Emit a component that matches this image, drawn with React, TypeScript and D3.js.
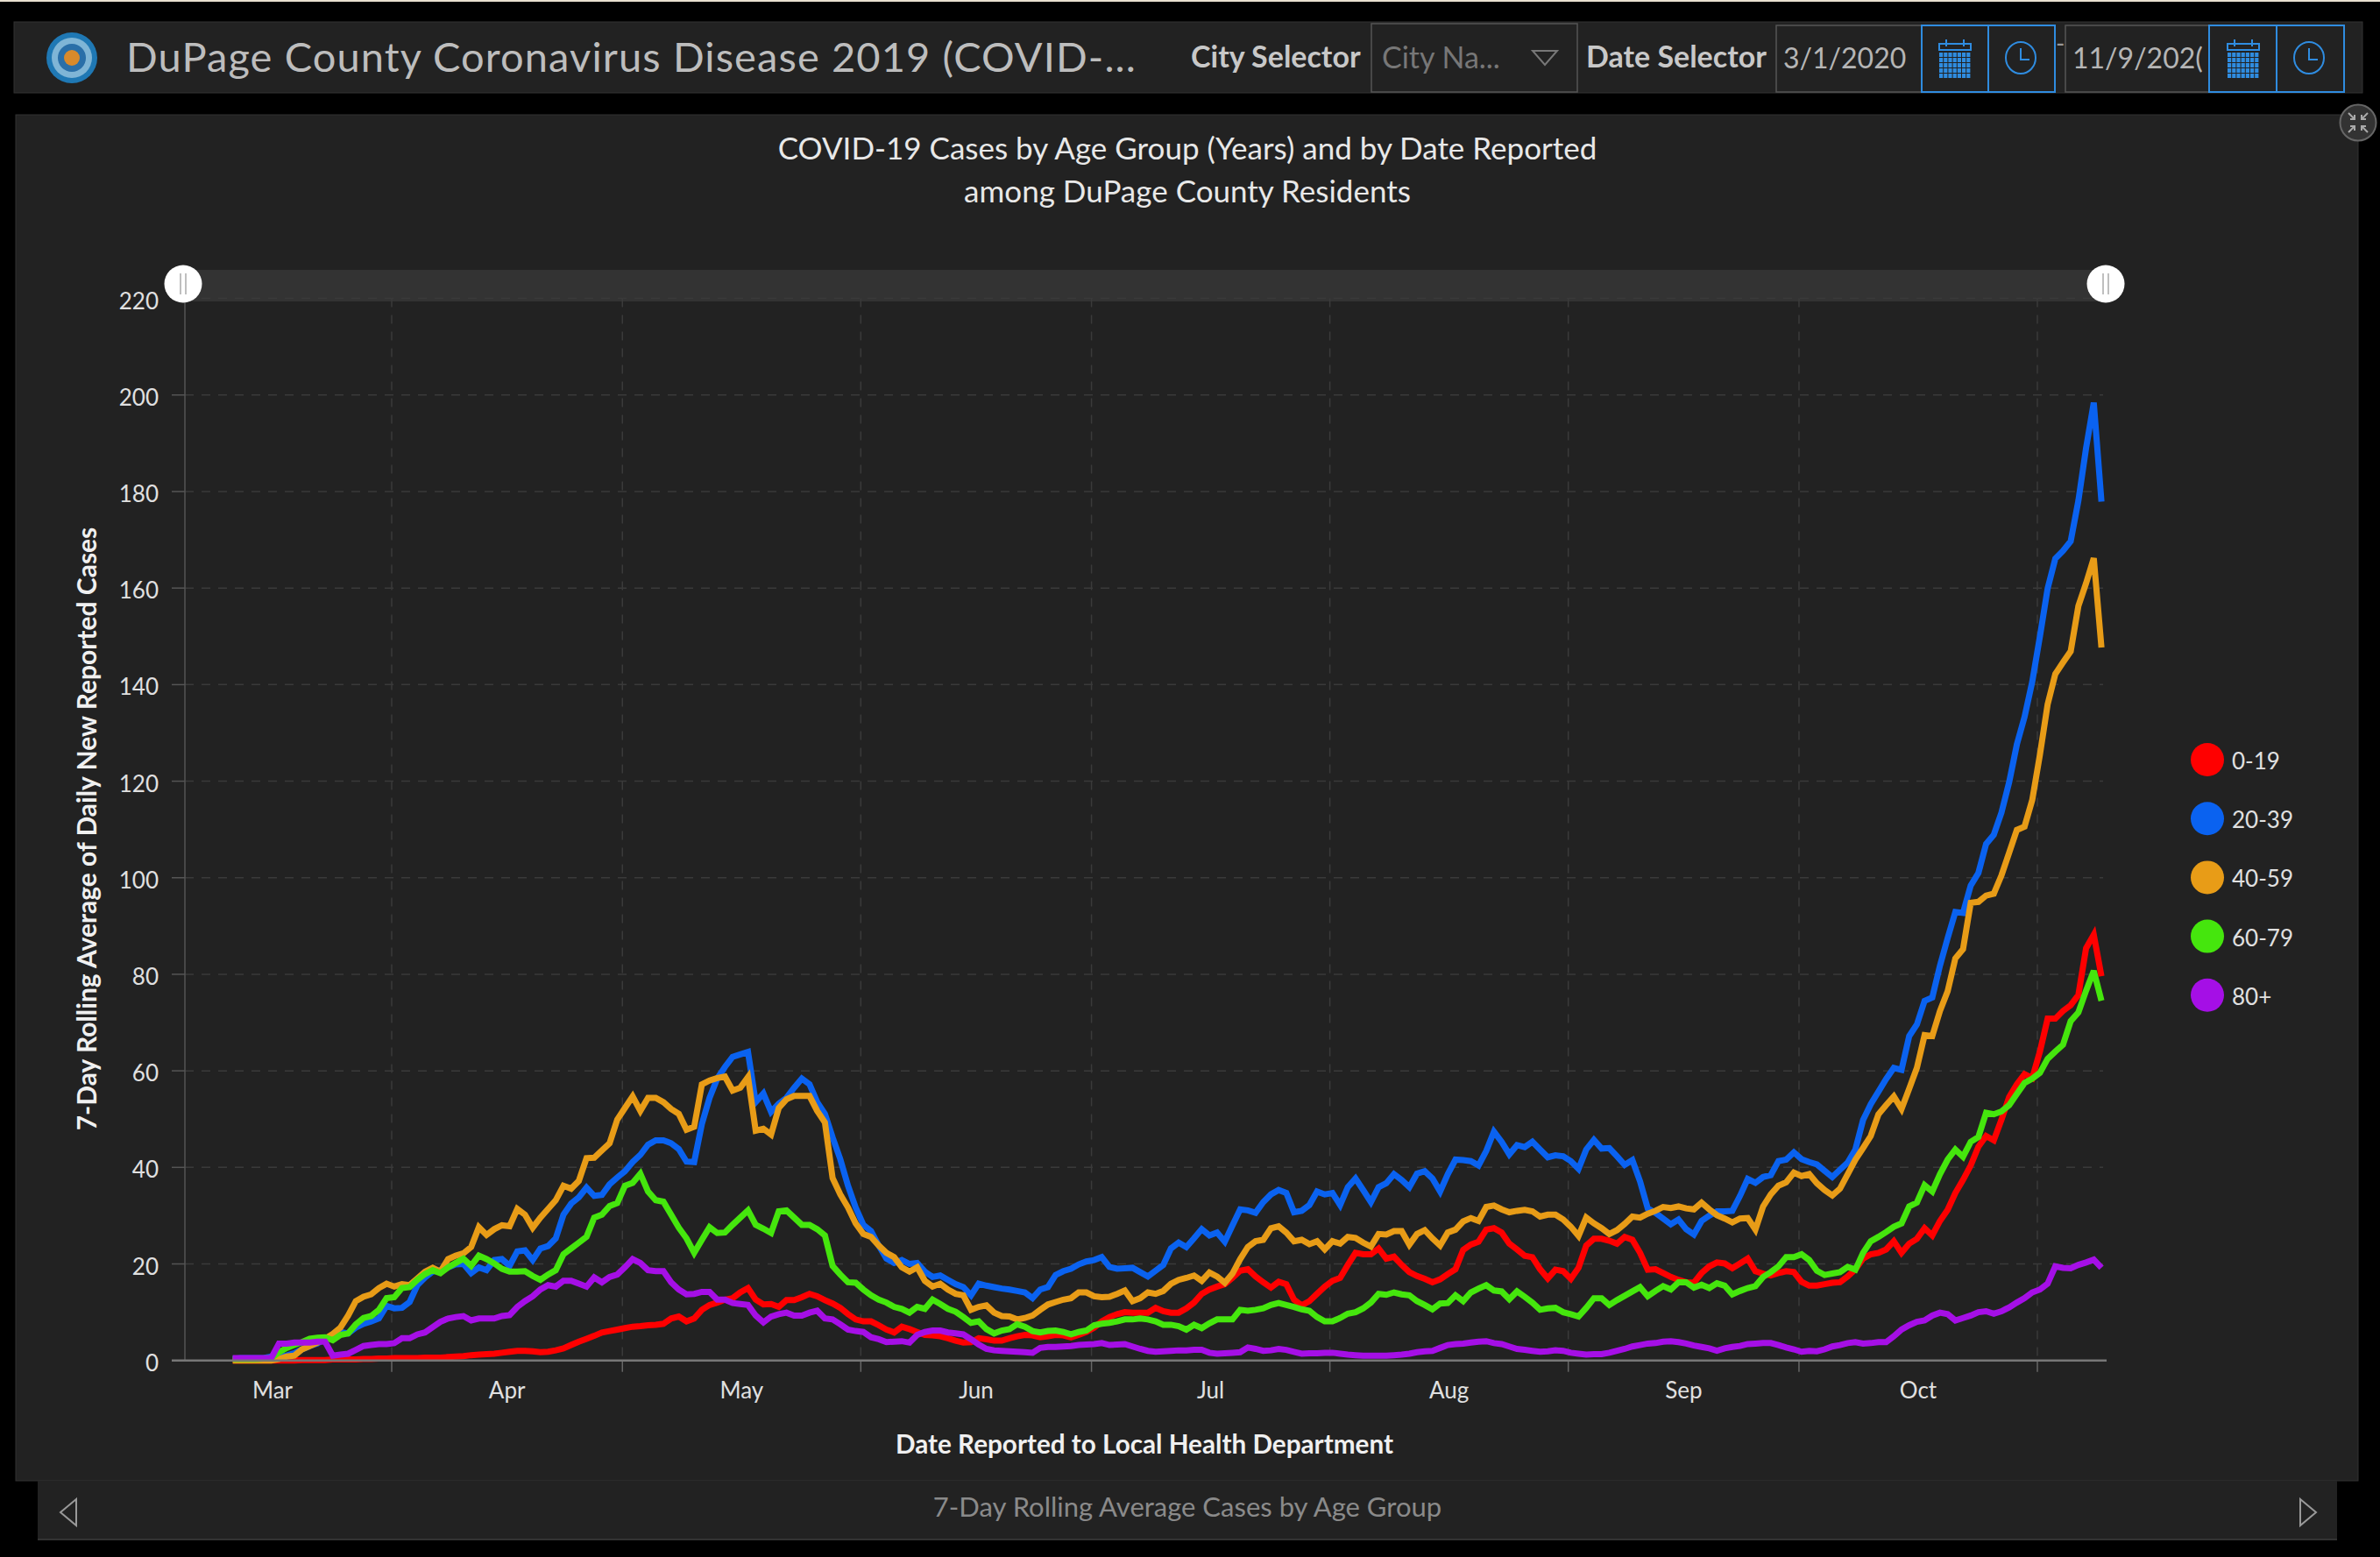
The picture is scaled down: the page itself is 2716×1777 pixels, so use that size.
import React from "react";
import * as d3 from "d3";

// Daily values, Mar 11 to Nov 9 2020; one row per month
const age0to19 = [
  0,0,0,0,0,0,0,0,0,.1,.1,.1,.1,.2,.2,.2,.2,.3,.3,.4,.4,
  .5,.5,.5,.5,.6,.6,.6,.7,.8,.9,1.1,1.2,1.3,1.4,1.6,1.8,2,2,1.9,1.7,1.8,2.1,2.5,3.2,3.9,4.5,5.1,5.8,6.1,6.4,
  6.7,7,7.1,7.3,7.4,7.6,8.7,9.1,8.1,8.7,10.5,11.5,12,12.6,12.9,14.1,15,12.6,11.6,11.7,11.1,12.5,12.5,13.1,13.8,13.3,12.5,11.8,10.9,9.6,8.5,
  8.1,8.1,7.3,6.4,5.8,7,6.5,5.9,5.3,5.2,5,4.6,4.1,3.7,3.8,4.6,4.4,4.1,4.1,4.6,5,5.3,5.2,4.8,5,5.3,5.2,4.8,5.3,5.9,
  6.8,8.1,9,9.6,10,9.9,9.9,9.9,10.9,10.2,9.9,9.9,10.8,12,13.8,14.7,15.3,15.8,17.1,18.6,18.9,17.4,16.2,15.1,16.3,15.8,12.6,11.4,12.3,13.8,15.3,
  16.5,17.1,19.8,22.3,22,22,23.2,21.1,21.5,19.8,18.3,17.5,16.9,16.2,16.8,17.9,18.9,22.9,24,24.6,27.1,27.4,26.5,24.2,23,21.7,21.4,18.9,17,18.8,18.5,
  16.9,19.2,23.8,25.2,25.2,24.8,24.2,25.6,25,22.3,18.8,18.9,18.1,17.3,16.7,16.2,16.1,18.1,19.5,20.3,20.1,19.1,20.1,21.1,18.5,18,17.6,18.1,18.5,18.3,
  16.3,15.5,15.5,15.8,16.1,16.2,17.4,18.9,21.1,22,22.3,23,24.7,22.3,24.2,25.2,27.4,25.9,28.9,31.2,34.7,37.4,40.4,44.3,46.5,45.6,49.9,54.6,57.2,59.3,58.5,
  64,70.8,70.8,72.4,73.6,75.7,85.4,88.2,79.6,
];
const age20to39 = [
  .3,.5,.5,.5,.5,.8,.8,1,1.5,2.3,3,3.5,4.5,5,5.9,5.6,6.8,7.6,8.1,8.7,11.3,
  10.8,10.9,12.1,15.6,17.2,18.4,18.7,19.3,19.9,20,18.1,19.3,18.7,20.8,21,19.6,22.6,22.8,20.8,23.2,23.7,25.3,30.2,32.5,33.8,35.8,34.1,34.3,36.5,37.9,
  39.2,41.1,42.6,44.7,45.6,45.6,45,43.8,41.2,41.1,49,54.4,58.4,60.8,62.9,63.4,63.9,53.5,55.3,51.5,53.2,54.4,56.5,58.4,57.2,53.5,51.1,46.2,41.7,36.2,31.7,
  28.1,26.8,23.8,21.1,20.2,20.8,20,20.2,18.4,17.3,17.6,16.7,15.8,15.2,13.5,15.9,15.5,15.2,14.9,14.7,14.4,14.1,12.9,14.7,15.2,17.7,18.5,19,19.9,20.5,
  20.8,21.4,19.4,19,19.1,19.2,18.3,17.4,18.6,19.8,23.2,24.4,23.5,25.3,27.2,25.9,26.5,24.6,28,31.3,31.1,30.6,32.8,34.4,35.3,34.7,30.7,31,32.2,35,34.4,
  34.7,32.2,35.9,37.7,35.3,32.8,35.9,36.7,38.6,37.4,35.9,38.7,39.2,37.7,35,38.6,41.6,41.5,41.3,40.4,43.4,47.4,45.3,42.7,44.6,44.2,45.3,43.7,42.1,42.5,42.3,
  41.3,39.7,43.7,45.7,43.9,44,42.3,40.5,41.5,37.1,31.5,30.6,29.4,28.2,29.2,27.2,26.1,28.9,30,30.9,30.9,31,34.1,37.6,36.8,38,38.4,41.3,41.6,43.1,
  41.7,41.1,40.6,39.3,38,39.5,41,43.7,49.8,53.1,55.7,58.3,60.6,60.2,67.2,69.6,74.5,75.2,81.8,87.5,92.9,92.7,98.4,101,107,108.9,113.5,119.8,127.6,133.3,140.6,
  150,159.9,166.1,167.7,169.7,178.1,189,198.4,177.9,
];
const age40to59 = [
  0,0,0,0,0,0,.3,.8,1,2.3,3,3.7,4.5,5.5,6.8,9.3,12.3,13.2,13.7,15,15.9,
  15.3,15.8,15.6,17,18.4,19.2,18.4,21,21.7,22.2,23.5,27.6,26,27.2,28,27.8,31.4,30.2,27.5,29.6,31.4,33.2,36.2,35.6,37.2,41.9,42,43.5,45,49.9,
  52.3,54.7,51.7,54.4,54.4,53.5,52.1,51.1,47.8,48.4,57.2,58,58.5,58.8,55.9,56.5,58.7,47.6,48,46.8,52.3,54.1,54.8,54.8,54.8,51.7,49.3,37.8,34.4,31.7,28.4,
  26.2,25.6,23.8,22.3,21.4,19.3,18.4,19.3,16.5,15.3,15.9,14.7,13.8,13.5,10.5,11.1,11.4,9.9,9.2,9.1,8.5,8.8,9.3,10.5,11.6,12.1,12.6,12.9,14.1,14.1,
  13.3,13.1,13.2,13.8,14.5,12.3,12.9,14.1,13.8,14.4,15.9,16.7,17.1,17.6,16.5,18.2,17.4,16.1,18,21,23.5,24.7,25,27.4,27.8,26.5,24.7,25,24.1,24.7,23,
  24.7,24.2,25.6,25.4,24.4,23.6,26.2,26.1,26.8,26.8,24,26.2,27,25.3,23.8,26.5,27.1,28.8,29.5,28.9,31.8,32.1,31.3,30.7,31,31.2,30.9,29.8,30.2,30.2,29.2,
  27.7,25.8,29.6,28.4,27.4,26.2,27,28.3,29.8,29.6,30.4,31,31.8,31.6,31.9,31.5,31.3,32.7,31.3,30.1,29.4,28.6,29.4,29.5,27.1,31.9,34.4,36.2,36.9,38.9,
  38.2,38.6,36.7,35.3,34.2,35.6,38.6,41.6,44,46.5,51,52.9,54.7,52.1,56.3,60.6,67.4,67.2,72.4,76.5,83.3,85.2,94.8,95,96.3,96.7,100.5,105.2,109.9,110.6,116.1,
  125.5,135.9,142.2,144.6,146.9,156.3,161,166.2,147.7,
];
const age60to79 = [
  .3,.3,.3,.3,.4,.5,1.7,2.6,3.2,3.8,4.5,4.7,4.8,4.2,5.3,5.6,7.5,8.8,9.2,10.5,12.9,
  13.1,15,15.2,16.7,17.9,18.7,18.1,19.3,20.2,21.1,19.6,21.7,21,20.1,19,18.4,18.4,18.5,17.5,16.7,17.8,18.7,22,23.2,24.4,25.6,29.6,30.2,32,32.6,
  36.2,36.8,38.7,35,33.2,32.9,30.2,27.5,25.3,22.3,25,27.6,26.4,26.5,28.1,29.6,31.1,28.1,27.3,26.4,30.9,31.1,29.6,28.1,28.1,27.2,25.9,19.6,17.8,16.2,16.1,
  14.7,13.5,12.6,12,11.1,10.7,9.9,11.1,10.7,12.6,11.7,10.7,10.1,9,7.8,8.1,6.5,5.6,6.2,6.5,7.5,7,6.1,5.8,6.1,6.2,5.9,5.4,5.9,6.2,
  7.3,7.6,7.8,8.1,8.5,8.5,8.7,8.5,8.1,7.4,7.4,7.1,6.4,7.4,6.7,7.7,8.5,8.5,8.5,10.5,10.3,10.5,10.8,11.5,11.9,11.5,11.1,10.6,10.3,9,8.1,
  8.1,8.8,9.7,10,10.8,12,13.8,13.6,14.1,13.7,13.5,12.3,11.5,10.6,11.8,11.9,13.5,12.3,14.1,14.9,15.6,14.5,14.3,12.7,14.3,13.2,12,10.5,10.8,10.9,10,
  9.6,9.1,10.9,12.9,12.9,11.5,12.5,13.4,14.3,15.2,13.3,14.4,15.4,14.7,16.2,16.2,15.1,15.7,15,16,15.5,13.7,14.4,15,15.4,17.3,18.3,19.5,21.4,21.4,
  22,20.8,18.6,17.7,18,18.3,19.4,18.8,22.3,24.7,25.6,26.6,27.7,28.4,31.9,32.7,36.3,35,38.6,41.6,43.7,42.2,45.3,46.3,51.3,51,51.6,52.9,55.2,57.5,58.4,
  59.6,62.5,64,65.4,70.3,72.1,76.6,80.7,74.5,
];
const age80plus = [
  .5,.5,.5,.5,.5,.5,3.5,3.5,3.7,3.7,3.7,3.9,3.9,1,1.2,1.4,2.2,3,3.2,3.4,3.4,
  3.6,4.6,4.6,5.4,5.8,6.9,8,8.7,9,9.2,8.3,8.7,8.7,8.7,9.2,9.4,11.1,12.3,13.3,14.7,15.6,15.3,16.5,16.5,15.9,15.3,17.2,16.2,17.3,17.8,
  19.3,21,20.2,18.7,18.5,18.5,16.2,14.7,13.7,13.8,14.2,14.2,12.6,12.6,11.9,11.7,11.5,9.3,7.9,9.1,9.6,9.9,9.3,9.3,9.9,10.3,8.7,8.5,7.5,6.4,6.1,
  5.9,4.8,4.4,3.8,3.9,4,3.7,5.3,5.9,6.2,6.2,5.8,5.6,5.4,4.4,3.3,2.4,2.1,2,1.9,1.8,1.7,1.6,2.6,2.8,2.8,2.9,3,3.2,3.3,
  3.4,3.6,3.2,3.3,3.4,2.9,2.4,2,1.8,1.9,2,2.1,2.1,2.2,2.2,1.6,1.4,1.5,1.6,1.7,2.7,2.4,2,2.1,2.4,2.2,1.8,1.4,1.5,1.5,1.6,
  1.6,1.4,1.2,1.1,1,1,1,1,1.1,1.2,1.4,1.7,1.9,2,2.6,3.2,3.4,3.5,3.7,3.9,4,3.6,3.4,2.9,2.4,2.2,2,1.8,1.9,2.1,2,
  1.6,1.4,1.2,1.3,1.3,1.6,2,2.4,2.9,3.2,3.5,3.6,3.9,4,3.8,3.5,3.1,2.8,2.5,2,2.5,2.8,3,3.4,3.5,3.6,3.6,3.2,2.7,2.3,
  1.8,2,1.9,2.3,2.9,3.2,3.6,3.8,3.5,3.6,3.8,3.8,5,6.4,7.3,8,8.3,9.3,9.9,9.6,8.3,8.8,9.3,10,10.2,9.7,10.2,11,12,12.9,14.1,
  14.7,15.9,19.5,19.2,19.1,19.8,20.3,20.9,19.2,
];

const seriesNames = ["0-19", "20-39", "40-59", "60-79", "80+"];
const seriesValues = [age0to19, age20to39, age40to59, age60to79, age80plus];
const seriesColors = ["#ff0000", "#0a62f0", "#e89c17", "#45e60d", "#a50fe6"];
const monthLabels = ["Mar", "Apr", "May", "Jun", "Jul", "Aug", "Sep", "Oct"];
const yTicks = d3.range(0, 221, 20);

const FONT = "Lato, 'Open Sans', sans-serif";
const W = 2716;
const H = 1777;

const utc = (m: number, d: number) => new Date(Date.UTC(2020, m, d));
const x = d3.scaleUtc().domain([utc(3, 1), utc(10, 1)]).range([447, 2325]);
const y = d3.scaleLinear().domain([0, 220]).range([1552.7, 340.6]);
const pointDate = (i: number) => new Date(Date.UTC(2020, 2, 11 + i, 8));
const line = d3
  .line<number>()
  .x((_, i) => x(pointDate(i)))
  .y((v) => y(v));

const monthStarts = d3.range(3, 11).map((m) => utc(m, 1));
const monthMids = monthLabels.map((_, i) =>
  (x(utc(2 + i, 1)) + x(utc(3 + i, 1))) / 2
);

function CalendarIcon({ cx, cy }: { cx: number; cy: number }) {
  const rows = d3.range(0, 5);
  const cols = d3.range(0, 7);
  return (
    <g>
      <rect x={cx - 18} y={cy - 18} width={36} height={7} fill="none" stroke="#2f8ce0" strokeWidth={2} />
      <line x1={cx - 10} x2={cx - 10} y1={cy - 23} y2={cy - 15} stroke="#2f8ce0" strokeWidth={2} />
      <line x1={cx + 10} x2={cx + 10} y1={cy - 23} y2={cy - 15} stroke="#2f8ce0" strokeWidth={2} />
      {rows.map((r) =>
        cols.map((c) => (
          <rect key={`${r}-${c}`} x={cx - 18 + c * 5.2} y={cy - 8 + r * 6} width={4.2} height={5} fill="#2f8ce0" />
        ))
      )}
    </g>
  );
}

function ClockIcon({ cx, cy }: { cx: number; cy: number }) {
  return (
    <g fill="none" stroke="#2f8ce0" strokeWidth={2}>
      <ellipse cx={cx} cy={cy} rx={17} ry={18} />
      <path d={`M${cx},${cy - 11}V${cy + 2}H${cx + 10}`} />
    </g>
  );
}

function Handle({ cx, cy }: { cx: number; cy: number }) {
  return (
    <g>
      <circle cx={cx} cy={cy} r={21.5} fill="#fff" />
      <line x1={cx - 3} x2={cx - 3} y1={cy - 12} y2={cy + 12} stroke="#aaa" strokeWidth={1.5} />
      <line x1={cx + 3} x2={cx + 3} y1={cy - 12} y2={cy + 12} stroke="#aaa" strokeWidth={1.5} />
    </g>
  );
}

export default function App() {
  return (
    <svg
      width={W}
      height={H}
      viewBox={`0 0 ${W} ${H}`}
      style={{ position: "absolute", left: 0, top: 0, display: "block" }}
      fontFamily={FONT}
    >
      <rect width={W} height={H} fill="#000" />
      <rect width={W} height={2} fill="#e8e0d0" />

      {/* Header */}
      <rect x={16} y={25} width={2680} height={81} fill="#222" stroke="#333" />
      <circle cx={82} cy={66} r={29} fill="#1f78b4" />
      <circle cx={82} cy={66} r={23} fill="#7fb5d6" />
      <circle cx={82} cy={66} r={16} fill="#2a6fa8" />
      <circle cx={82} cy={66} r={9} fill="#d98a2b" />
      <text x={144} y={82} fontSize={47} fill="#bdbdbd" letterSpacing={1.1}>
        DuPage County Coronavirus Disease 2019 (COVID-...
      </text>
      <text x={1359} y={77} fontSize={34} fontWeight={700} fill="#c8c8c8">City Selector</text>
      <rect x={1565} y={27} width={235} height={78} fill="none" stroke="#555" strokeWidth={1.5} />
      <text x={1577} y={78} fontSize={34} fill="#777">City Na...</text>
      <path d="M1749,58h28l-14,16z" fill="none" stroke="#777" strokeWidth={2} />
      <text x={1810} y={77} fontSize={34} fontWeight={700} fill="#c8c8c8">Date Selector</text>
      <rect x={2027} y={29} width={166} height={76} fill="none" stroke="#555" strokeWidth={1.5} />
      <text x={2035} y={78} fontSize={32} fill="#b5b5b5">3/1/2020</text>
      <rect x={2193} y={29} width={76} height={76} fill="none" stroke="#2f8ce0" strokeWidth={2} />
      <rect x={2269} y={29} width={76} height={76} fill="none" stroke="#2f8ce0" strokeWidth={2} />
      <CalendarIcon cx={2231} cy={68} />
      <ClockIcon cx={2306} cy={66} />
      <text x={2346} y={60} fontSize={28} fill="#999">-</text>
      <rect x={2357} y={29} width={164} height={76} fill="none" stroke="#555" strokeWidth={1.5} />
      <text x={2365} y={78} fontSize={32} fill="#b5b5b5">11/9/202(</text>
      <rect x={2521} y={29} width={77} height={76} fill="none" stroke="#2f8ce0" strokeWidth={2} />
      <rect x={2598} y={29} width={77} height={76} fill="none" stroke="#2f8ce0" strokeWidth={2} />
      <CalendarIcon cx={2560} cy={68} />
      <ClockIcon cx={2635} cy={66} />

      {/* Panel */}
      <rect x={18} y={131} width={2673} height={1559} fill="#222" stroke="#333" />
      <rect x={43} y={1690} width={2624} height={68} fill="#222" />
      <rect x={43} y={1756} width={2624} height={2} fill="#333" />
      <circle cx={2691} cy={140} r={20.5} fill="#333" stroke="#666" strokeWidth={2} />
      <g stroke="#aaa" strokeWidth={2} fill="none">
        <path d="M2680,129l7,7M2687,131v5h-5" />
        <path d="M2702,129l-7,7M2695,131v5h5" />
        <path d="M2680,151l7,-7M2687,149v-5h-5" />
        <path d="M2702,151l-7,-7M2695,149v-5h5" />
      </g>

      <text x={1355} y={182} textAnchor="middle" fontSize={35} fill="#e8e8e8">
        COVID-19 Cases by Age Group (Years) and by Date Reported
      </text>
      <text x={1355} y={231} textAnchor="middle" fontSize={35} fill="#e8e8e8">
        among DuPage County Residents
      </text>

      {/* Range slider */}
      <rect x={211} y={308} width={2190} height={36} fill="#333" />

      {/* Grid */}
      {yTicks.map((t) => (
        <g key={t}>
          {t > 0 && (
            <line x1={211} x2={2400} y1={y(t)} y2={y(t)} stroke="#3a3a3a" strokeWidth={1.5} strokeDasharray="10 9" />
          )}
          <line x1={196} x2={211} y1={y(t)} y2={y(t)} stroke="#555" strokeWidth={1.5} />
          <text x={181} y={y(t) + 12} textAnchor="end" fontSize={26} fill="#e0e0e0">{t}</text>
        </g>
      ))}
      {monthStarts.map((d) => (
        <g key={+d}>
          <line x1={x(d)} x2={x(d)} y1={y(220)} y2={y(0)} stroke="#3a3a3a" strokeWidth={1.5} strokeDasharray="10 9" />
          <line x1={x(d)} x2={x(d)} y1={y(0)} y2={y(0) + 13} stroke="#666" strokeWidth={1.5} />
        </g>
      ))}
      <line x1={211} x2={211} y1={y(220)} y2={y(0)} stroke="#555" strokeWidth={1.5} />

      {/* Series */}
      {seriesValues.map((vals, i) => (
        <path
          key={seriesNames[i]}
          d={line(vals) ?? ""}
          fill="none"
          stroke={seriesColors[i]}
          strokeWidth={7}
          strokeLinejoin="miter"
          strokeMiterlimit={3}
        />
      ))}
      <line x1={196} x2={2404} y1={y(0)} y2={y(0)} stroke="#777" strokeWidth={2.5} />

      <Handle cx={209} cy={324} />
      <Handle cx={2403} cy={324} />

      {/* Axis labels */}
      {monthLabels.map((m, i) => (
        <text key={m} x={monthMids[i]} y={1596} textAnchor="middle" fontSize={26} fill="#e0e0e0">{m}</text>
      ))}
      <text x={1306} y={1659} textAnchor="middle" fontSize={29.7} fontWeight={700} fill="#f0f0f0">
        Date Reported to Local Health Department
      </text>
      <text
        transform="translate(110,946) rotate(-90)"
        textAnchor="middle"
        fontSize={30}
        fontWeight={700}
        fill="#f0f0f0"
      >
        7-Day Rolling Average of Daily New Reported Cases
      </text>

      {/* Legend */}
      {seriesNames.map((n, i) => (
        <g key={n}>
          <circle cx={2519} cy={867 + i * 67.2} r={19} fill={seriesColors[i]} />
          <text x={2547} y={878 + i * 67.2} fontSize={26} fill="#e0e0e0">{n}</text>
        </g>
      ))}

      {/* Footer */}
      <text x={1355} y={1731} textAnchor="middle" fontSize={31} fill="#8a8a8a">
        7-Day Rolling Average Cases by Age Group
      </text>
      <path d="M87,1711L69,1726L87,1741Z" fill="none" stroke="#999" strokeWidth={2} />
      <path d="M2625,1711L2643,1726L2625,1741Z" fill="none" stroke="#999" strokeWidth={2} />
    </svg>
  );
}
